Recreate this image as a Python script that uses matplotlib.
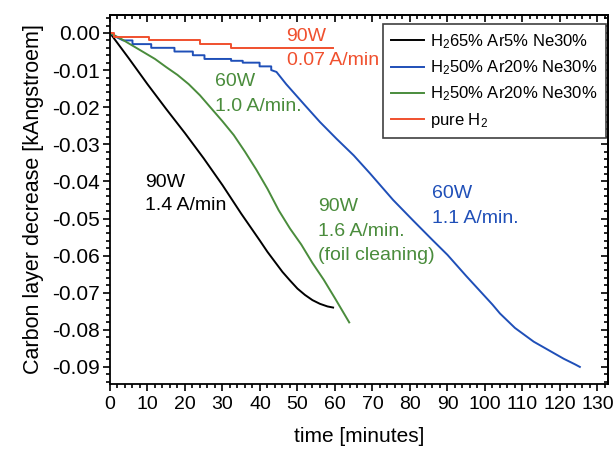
import matplotlib
matplotlib.use("Agg")
import matplotlib.pyplot as plt
from matplotlib.ticker import MultipleLocator, FormatStrFormatter

plt.rcParams["font.family"] = ["Liberation Sans", "DejaVu Sans"]
plt.rcParams["mathtext.fontset"] = "custom"
plt.rcParams["mathtext.rm"] = "Liberation Sans"
plt.rcParams["mathtext.it"] = "Liberation Sans:italic"
plt.rcParams["axes.unicode_minus"] = False

# H2 65% Ar5% Ne30%, 90 W
t_black = [0, 5, 10, 15, 20, 25, 30, 35, 40, 42, 44, 46, 48, 50, 52, 54, 56, 58, 59.5]
d_black = [0, -0.0068, -0.0138, -0.0205, -0.0270, -0.0338, -0.0410, -0.0487,
           -0.0560, -0.0590, -0.0617, -0.0644, -0.0667, -0.0689, -0.0706, -0.0720,
           -0.0730, -0.0737, -0.0740]

# H2 50% Ar20% Ne30%, 60 W
t_blue = [0, 1.5, 3.5, 6, 6, 11, 11, 17.2, 17.2, 22.1, 22.1, 25.2, 25.2, 32.3, 32.3,
          35.4, 35.4, 39.9, 39.9, 43, 43, 44.4, 47, 52, 56, 60.4, 65, 69.3, 75.5,
          80.8, 86, 90, 95, 100, 102, 104, 108, 113, 117, 121, 124, 125.3]
d_blue = [0, -0.001, -0.002, -0.002, -0.003, -0.003, -0.004, -0.004, -0.005, -0.005,
          -0.006, -0.006, -0.007, -0.007, -0.0075, -0.0075, -0.008, -0.008, -0.009,
          -0.009, -0.010, -0.0105, -0.0138, -0.0195, -0.0240, -0.0285, -0.0330,
          -0.0378, -0.0450, -0.0505, -0.0558, -0.0598, -0.0655, -0.0710, -0.0732,
          -0.0756, -0.0795, -0.0832, -0.0855, -0.0878, -0.0893, -0.0900]

# H2 50% Ar20% Ne30%, 60 W then 90 W (foil cleaning)
t_green = [0, 3, 6, 9, 12, 15, 18, 21, 24, 27, 30, 33, 36, 39, 42, 45, 48, 51, 54,
           57, 60, 63.8]
d_green = [0, -0.0016, -0.0034, -0.0052, -0.0070, -0.0092, -0.0113, -0.0138,
           -0.0168, -0.0203, -0.0238, -0.0275, -0.0320, -0.0368, -0.0420, -0.0478,
           -0.0527, -0.0570, -0.0620, -0.0665, -0.0715, -0.0780]

# pure H2, 90 W
t_red = [0, 1, 10.4, 24, 32.3, 59.5]
d_red = [0, -0.001, -0.002, -0.003, -0.004, -0.004]

labels = [r"H$_2$65% Ar5% Ne30%", r"H$_2$50% Ar20% Ne30%",
          r"H$_2$50% Ar20% Ne30%", r"pure H$_2$"]

c_black = "#000000"
c_blue = "#1f4fb8"
c_green = "#4a8c3c"
c_red = "#f0502e"

fig = plt.figure(figsize=(6.13, 4.5), dpi=100)
ax = fig.add_axes([0.1794, 0.1467, 0.8124, 0.82])

lw = 1.4
ax.plot(t_black, d_black, color=c_black, lw=lw, label=labels[0])
ax.plot(t_blue, d_blue, color=c_blue, lw=lw, label=labels[1])
ax.plot(t_green, d_green, color=c_green, lw=lw, label=labels[2])
ax.plot(t_red, d_red, color=c_red, lw=lw, drawstyle="steps-post", label=labels[3])

ax.set_xlim(0, 132.8)
ax.set_ylim(-0.0946, 0.00485)

ax.xaxis.set_major_locator(MultipleLocator(10))
ax.xaxis.set_minor_locator(MultipleLocator(2))
ax.yaxis.set_major_locator(MultipleLocator(0.01))
ax.yaxis.set_minor_locator(MultipleLocator(0.002))
ax.yaxis.set_major_formatter(FormatStrFormatter("%.2f"))

for s in ax.spines.values():
    s.set_linewidth(1.3)

ax.tick_params(which="both", direction="out", width=1.2)
ax.tick_params(axis="x", which="major", pad=4, labelsize=14)
ax.tick_params(axis="y", which="major", pad=2, labelsize=15)
ax.tick_params(which="major", length=5)
ax.tick_params(which="minor", length=3)

# mirrored inward ticks on top and right
top = ax.secondary_xaxis("top")
top.xaxis.set_major_locator(MultipleLocator(10))
top.xaxis.set_minor_locator(MultipleLocator(2))
top.tick_params(which="both", direction="in", labeltop=False, width=1.2)
top.tick_params(which="major", length=5)
top.tick_params(which="minor", length=3)
right = ax.secondary_yaxis("right")
right.yaxis.set_major_locator(MultipleLocator(0.01))
right.yaxis.set_minor_locator(MultipleLocator(0.002))
right.tick_params(which="both", direction="in", labelright=False, width=1.2)
right.tick_params(which="major", length=5)
right.tick_params(which="minor", length=3)
for sec in (top, right):
    for s in sec.spines.values():
        s.set_linewidth(1.3)

ax.set_xlabel("time [minutes]", fontsize=15, labelpad=10)
ax.set_ylabel("Carbon layer decrease [kAngstroem]", fontsize=15.5, labelpad=6)

fs = 14
ax.text(47.1, -0.0010, "90W", color=c_red, fontsize=fs, va="center")
ax.text(47.1, -0.0075, "0.07 A/min", color=c_red, fontsize=fs, va="center")
ax.text(28.0, -0.0131, "60W", color=c_green, fontsize=fs, va="center")
ax.text(28.0, -0.0199, "1.0 A/min.", color=c_green, fontsize=fs, va="center")
ax.text(9.3, -0.0402, "90W", color=c_black, fontsize=fs, va="center")
ax.text(9.3, -0.0466, "1.4 A/min", color=c_black, fontsize=fs, va="center")
ax.text(55.5, -0.0468, "90W", color=c_green, fontsize=fs, va="center")
ax.text(55.5, -0.0536, "1.6 A/min.", color=c_green, fontsize=fs, va="center")
ax.text(55.5, -0.0601, "(foil cleaning)", color=c_green, fontsize=fs, va="center")
ax.text(85.8, -0.0432, "60W", color=c_blue, fontsize=fs, va="center")
ax.text(85.8, -0.0499, "1.1 A/min.", color=c_blue, fontsize=fs, va="center")

leg = ax.legend(loc="upper right", bbox_to_anchor=(0.996, 0.9756), borderaxespad=0,
                fontsize=12, handlelength=2.0, handletextpad=0.35, labelspacing=0.45,
                borderpad=0.5, frameon=True, fancybox=False, framealpha=1,
                edgecolor="#404040")
leg.get_frame().set_linewidth(1.2)

fig.savefig("out.png", dpi=100)
